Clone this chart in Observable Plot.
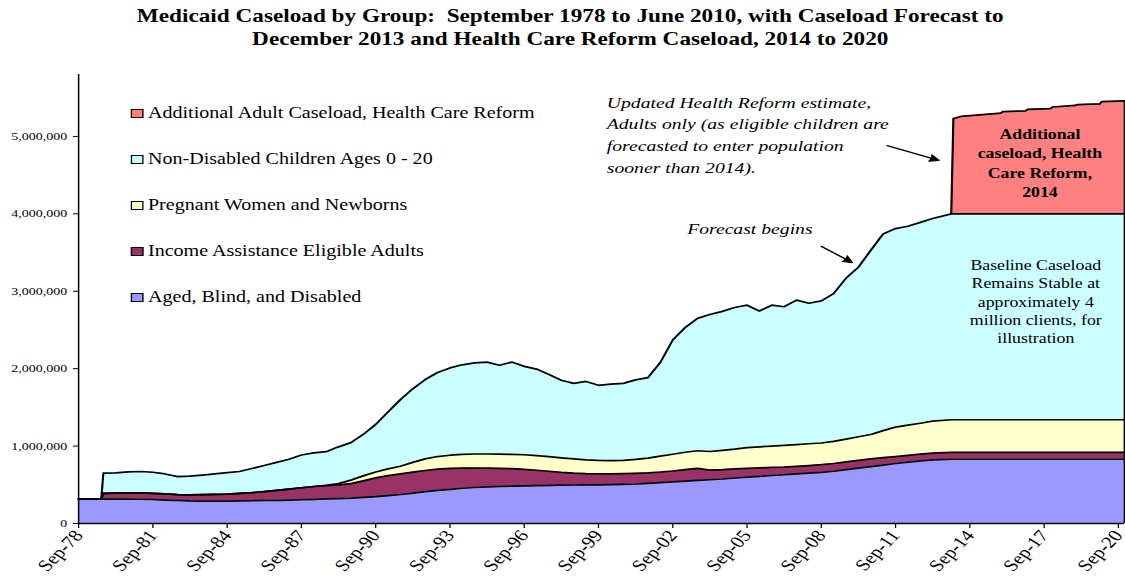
<!DOCTYPE html>
<html>
<head>
<meta charset="utf-8">
<script src="https://cdn.jsdelivr.net/npm/d3@7"></script>
<script src="https://cdn.jsdelivr.net/npm/@observablehq/plot@0.6"></script>
<style>
  html, body { margin: 0; padding: 0; background: #fff; overflow: hidden; width: 1125px; height: 586px; }
  #wrap { position: relative; width: 886px; height: 586px; transform: scaleX(1.27); transform-origin: 0 0;
          font-family: "Liberation Serif", "Times New Roman", serif; color: #000; }
  #title { height: 60px; box-sizing: border-box; padding-top: 5px; padding-left: 12px; text-align: center;
           font-weight: bold; font-size: 18.3px; line-height: 23px; white-space: nowrap; }
  #legend { position: absolute; left: 103px; top: 0; }
  .row { position: absolute; left: 0; height: 20px; display: flex; align-items: center; white-space: nowrap; font-size: 15.8px; }
  .sw { width: 10px; height: 9px; box-sizing: border-box; border: 1px solid #000; margin-right: 3.5px; flex: none; }
</style>
</head>
<body>
<div id="wrap">
  <div id="title">Medicaid Caseload by Group:&nbsp; September 1978 to June 2010, with Caseload Forecast to<br>December 2013 and Health Care Reform Caseload, 2014 to 2020</div>
  <div id="chart"></div>
  <div id="legend"></div>
</div>
<script>
// ---- Data (caseload values in thousands of clients) ----
const seriesNames = [
  "Aged, Blind, and Disabled",
  "Income Assistance Eligible Adults",
  "Pregnant Women and Newborns",
  "Non-Disabled Children Ages 0 - 20",
  "Additional Adult Caseload, Health Care Reform"
];
const seriesColors = ["#9999FF", "#993366", "#FFFFCC", "#CCFFFF", "#FF8080"];

const dates = [
  "1978-09","1979-08","1979-09","1980-03","1980-09","1981-03","1981-09","1982-03","1982-09","1983-03",
  "1983-09","1984-03","1984-09","1985-03","1985-09","1986-03","1986-09","1987-03","1987-09","1988-03",
  "1988-09","1989-03","1989-09","1990-03","1990-09","1991-03","1991-09","1992-03","1992-09","1993-03",
  "1993-09","1994-03","1994-09","1995-03","1995-09","1996-03","1996-09","1997-03","1997-09","1998-03",
  "1998-09","1999-03","1999-09","2000-03","2000-09","2001-03","2001-09","2002-03","2002-09","2003-03",
  "2003-09","2004-03","2004-09","2005-03","2005-09","2006-03","2006-09","2007-03","2007-09","2008-03",
  "2008-09","2009-03","2009-09","2010-03","2010-09","2011-03","2011-09","2012-03","2012-09","2013-03",
  "2013-12",
  "2014-01","2014-05","2015-12","2016-01","2016-12","2017-01","2017-12","2018-01","2018-12","2019-01",
  "2019-12","2020-01","2020-12"
];
const agedBlindDisabled = [
  315,315,315,315,315,313,310,303,297,292,
  290,290,290,292,294,297,300,303,307,312,
  317,322,328,337,347,360,375,393,412,428,
  442,455,465,472,478,483,487,490,493,495,
  497,499,500,502,505,510,518,527,537,547,
  556,565,575,588,600,610,620,630,640,650,
  660,675,695,715,735,755,775,793,810,822,
  830,
  830,830,830,830,830,830,830,830,830,830,
  830,830,830
];
const incomeAssistance = [
  0,0,75,77,80,82,80,79,75,78,
  82,85,90,96,104,115,128,142,155,166,
  173,178,187,213,243,258,265,270,273,274,
  270,261,252,243,234,225,213,198,182,165,
  153,144,140,138,138,138,137,138,141,148,
  156,125,120,117,112,108,105,100,98,98,
  100,100,100,100,100,95,90,87,85,86,
  90,
  90,90,90,90,90,90,90,90,90,90,
  90,90,90
];
const pregnantWomen = [
  0,0,0,0,0,0,0,0,0,0,
  0,0,0,0,0,0,0,0,0,0,
  2,15,45,65,75,87,100,127,150,163,
  170,177,181,183,183,185,188,190,188,188,
  185,180,175,172,172,180,190,205,217,225,
  228,240,250,255,268,272,275,280,282,282,
  280,285,295,305,315,350,380,390,400,414,
  420,
  420,420,420,420,420,420,420,420,420,420,
  420,420,420
];
const children = [
  0,0,260,263,273,277,272,258,233,242,
  253,265,278,284,312,338,362,385,423,434,
  436,475,485,535,615,735,860,950,1025,1085,
  1128,1157,1177,1187,1150,1192,1142,1117,1062,1002,
  975,1012,970,988,995,1027,1040,1210,1475,1610,
  1710,1770,1795,1830,1840,1755,1820,1790,1865,1815,
  1835,1910,2080,2190,2380,2540,2565,2570,2595,2618,
  2660,
  2660,2660,2660,2660,2660,2660,2660,2660,2660,2660,
  2660,2660,2660
];
const reformDates = ["2013-12","2014-01","2014-05","2015-12","2016-01","2016-12","2017-01",
  "2017-12","2018-01","2018-12","2019-01","2019-12","2020-01","2020-12"];
const reformAdults = [0,1230,1260,1300,1320,1330,1350,1360,1380,1400,1410,1420,1450,1460];

const xTickDates = ["1978-09","1981-09","1984-09","1987-09","1990-09","1993-09","1996-09",
  "1999-09","2002-09","2005-09","2008-09","2011-09","2014-09","2017-09","2020-09"];
const yTickValues = [0, 1000000, 2000000, 3000000, 4000000, 5000000];

const noteReform = "Updated Health Reform estimate,\nAdults only (as eligible children are\nforecasted to enter population\nsooner than 2014).";
const noteForecast = "Forecast begins";
const noteAdditional = "Additional\ncaseload, Health\nCare Reform,\n2014";
const noteBaseline = "Baseline Caseload\nRemains Stable at\napproximately 4\nmillion clients, for\nillustration";

// ---- Build table ----
const parse = d3.utcParse("%Y-%m");
const baseSeries = [agedBlindDisabled, incomeAssistance, pregnantWomen, children];
const table = [];
baseSeries.forEach((arr, k) => {
  dates.forEach((d, i) => table.push({date: parse(d), series: seriesNames[k], value: arr[i] * 1000}));
});
reformDates.forEach((d, i) => table.push({date: parse(d), series: seriesNames[4], value: reformAdults[i] * 1000}));

const startDate = parse(dates[0]);
const endDate = parse(dates[dates.length - 1]);
const endTotal = d3.sum(table.filter(r => +r.date === +endDate), r => r.value);

const font = "'Liberation Serif', 'Times New Roman', serif";

const chart = Plot.plot({
  width: 886,
  height: 526,
  marginTop: 14,
  marginBottom: 63,
  marginLeft: 61.4,
  marginRight: 1,
  style: {fontFamily: font, color: "#000", background: "#fff", overflow: "visible"},
  x: {type: "utc", domain: [startDate, endDate]},
  y: {domain: [0, 5800000]},
  color: {domain: seriesNames, range: seriesColors},
  marks: [
    Plot.areaY(table, {x: "date", y: "value", z: "series", fill: "series", order: seriesNames}),
    Plot.lineY(table, Plot.stackY2({x: "date", y: "value", z: "series", order: seriesNames,
      stroke: "#000", strokeWidth: 1.7, strokeLinejoin: "round"})),
    Plot.ruleX([{date: endDate, top: endTotal}], {x: "date", y1: 0, y2: "top", stroke: "#000", strokeWidth: 1.5}),
    Plot.ruleX([startDate], {stroke: "#000", strokeWidth: 1.2}),
    Plot.ruleY([0], {stroke: "#000", strokeWidth: 1.4}),
    Plot.axisY({ticks: yTickValues, tickFormat: d3.format(","), tickSize: 4, tickPadding: 5, fontSize: 11, label: null}),
    Plot.axisX({ticks: xTickDates.map(parse), tickFormat: d3.utcFormat("%b-%y"), tickRotate: -51.8,
      tickSize: 5, tickPadding: 4, fontSize: 16.5, label: null}),
    Plot.text([noteReform], {x: parse("2000-01"), y: 5570000, text: d => d, textAnchor: "start", lineAnchor: "top",
      fontSize: 15.5, fontStyle: "italic", lineHeight: 1.40, fill: "#000"}),
    Plot.text([noteForecast], {x: parse("2003-04"), y: 3876000, text: d => d, textAnchor: "start", lineAnchor: "top",
      fontSize: 15.5, fontStyle: "italic", fill: "#000"}),
    Plot.text([noteAdditional], {x: parse("2017-07"), y: 5150000, text: d => d, textAnchor: "middle", lineAnchor: "top",
      fontSize: 14, fontWeight: "bold", lineHeight: 1.393, fill: "#000"}),
    Plot.text([noteBaseline], {x: parse("2017-05"), y: 3442000, text: d => d, textAnchor: "middle", lineAnchor: "top",
      fontSize: 14, lineHeight: 1.307, fill: "#000"}),
    Plot.arrow([{x1: parse("2011-05"), y1: 4880000, x2: parse("2013-06"), y2: 4690000},
                {x1: parse("2008-09"), y1: 3580000, x2: parse("2009-12"), y2: 3370000}],
      {x1: "x1", y1: "y1", x2: "x2", y2: "y2", stroke: "#000", fill: "#000", strokeWidth: 1.3, headLength: 9, headAngle: 50})
  ]
});
// enforce axis label sizes
d3.select(chart).selectAll('g[aria-label="x-axis tick label"]').attr("font-size", 16.5).selectAll("text").attr("font-size", null);
d3.select(chart).selectAll('g[aria-label="y-axis tick label"]').attr("font-size", 11).selectAll("text").attr("font-size", null);
document.getElementById("chart").appendChild(chart);

// ---- Legend (inside the plot area, top-left) ----
const legend = document.getElementById("legend");
const legendOrder = [4, 3, 2, 1, 0];
const rowCenters = [113, 159, 205, 251, 297];
legendOrder.forEach((k, j) => {
  const row = document.createElement("div");
  row.className = "row";
  row.style.top = (rowCenters[j] - 10) + "px";
  const sw = document.createElement("span");
  sw.className = "sw";
  sw.style.background = seriesColors[k];
  const tx = document.createElement("span");
  tx.textContent = seriesNames[k];
  row.appendChild(sw);
  row.appendChild(tx);
  legend.appendChild(row);
});
</script>
</body>
</html>
